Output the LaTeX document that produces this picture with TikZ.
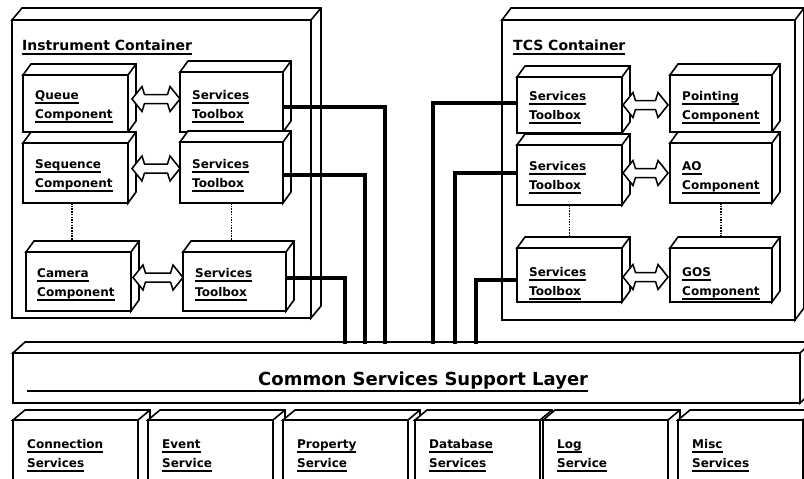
\documentclass[tikz,border=0pt]{standalone}
\usepackage{fontspec}
\setmainfont{DejaVu Sans}
\usetikzlibrary{calc}
\newcommand\ul[1]{\setbox0\hbox{#1}\rlap{\rule[-4.5pt]{\wd0}{1.3pt}}\box0}
\tikzset{
  frontbox/.style={draw, fill=white, line width=1.6pt, rectangle, inner sep=0pt, outer sep=0pt, line join=miter},
  faceline/.style={draw, fill=white, line width=1.6pt, line join=miter},
  lab/.style={anchor=base west, inner sep=0pt, font=\fontsize{12}{14}\selectfont\bfseries},
  titlelab/.style={anchor=base west, inner sep=0pt, font=\fontsize{14}{16}\selectfont\bfseries},
  biglab/.style={anchor=base west, inner sep=0pt, font=\fontsize{18}{20}\selectfont\bfseries},
  conn/.style={line width=4.5pt, line join=miter},
  hollowstyle/.style={draw, fill=white, line width=1.5pt, line join=miter},
  dotline/.style={line width=1.8pt, dash pattern=on 1.5pt off 1.2pt},
  ulrule/.style={line width=1.3pt}
}
\newcommand\cube[6]{%
  \node[frontbox, minimum width=#4pt, minimum height=#5pt] (#1) at (#2,#3) {};
  \path[faceline] (#1.north west) -- ++(#6) -- ($(#1.north east)+(#6)$) -- ($(#1.south east)+(#6)$) -- (#1.south east) -- (#1.north east) -- cycle;
  \draw[faceline] (#1.north east) -- ++(#6);}
\newcommand\hollow[2]{%
  \draw[hollowstyle] let \p1=#1, \p2=#2 in
   (\x1,\y1) -- (\x1+10pt,\y1+12.5pt) -- (\x1+12.5pt,\y1+4.5pt) -- (\x2-12.5pt,\y1+4.5pt) -- (\x2-10pt,\y1+12.5pt)
   -- (\x2,\y1) -- (\x2-10pt,\y1-12.5pt) -- (\x2-12.5pt,\y1-4.5pt) -- (\x1+12.5pt,\y1-4.5pt) -- (\x1+10pt,\y1-12.5pt) -- cycle;}
\newcommand\twolines[5]{%
  \node[lab] (#1a) at (#2,#3) {\ul{#4}};
  \node[lab] (#1b) at (#2,#3+19) {\ul{#5}};}
\begin{document}
\begin{tikzpicture}[x=1pt, y=-1pt]
\path[use as bounding box, fill=white] (0,0) rectangle (804,479);
% containers
\cube{IC}{161.5}{169}{299}{298}{10,-12}
\node[titlelab] (ICt) at (22,50) {\ul{Instrument Container}};
\cube{TC}{648.5}{170}{293}{300}{9,-12}
\node[titlelab] (TCt) at (513,50) {\ul{TCS Container}};
% instrument components
\cube{Q}{75.5}{103.5}{105}{57}{8,-11}
\cube{QT}{231.5}{102}{103}{60}{8,-11}
\cube{S}{75.5}{173}{105}{60}{8,-11}
\cube{ST}{231.5}{172.5}{103}{61}{8,-11}
\cube{C}{78.5}{281.5}{105}{59}{8,-11}
\cube{CT}{234.5}{281.5}{103}{59}{8,-11}
% TCS components
\cube{T1}{569.5}{105}{105}{56}{8,-11}
\cube{P}{721}{103.5}{102}{57}{8,-11}
\cube{T2}{569.5}{175}{105}{60}{8,-11}
\cube{AO}{721}{173}{102}{60}{8,-11}
\cube{T3}{569.5}{275}{105}{54}{8,-11}
\cube{G}{721}{275}{102}{54}{8,-11}
% dotted links
\draw[dotline] ($(S.south)+(-3.5,0)$) -- ($(S.south |- C.north)+(-3.5,-11)$);
\draw[dotline] (ST.south) -- ($(ST.south |- CT.north)+(0,-11)$);
\draw[dotline] (T2.south) -- ($(T2.south |- T3.north)+(0,-11)$);
\draw[dotline] (AO.south) -- ($(AO.south |- G.north)+(0,-11)$);
% labels
\twolines{Ql}{35}{99}{Queue}{Component}
\twolines{QTl}{192}{99}{Services}{Toolbox}
\twolines{Sl}{35}{168}{Sequence}{Component}
\twolines{STl}{192}{168}{Services}{Toolbox}
\twolines{Cl}{37}{277}{Camera}{Component}
\twolines{CTl}{195}{277}{Services}{Toolbox}
\twolines{T1l}{529}{100}{Services}{Toolbox}
\twolines{Pl}{682}{100}{Pointing}{Component}
\twolines{T2l}{529}{170}{Services}{Toolbox}
\twolines{AOl}{682}{170}{AO}{Component}
\twolines{T3l}{529}{276}{Services}{Toolbox}
\twolines{Gl}{682}{276}{GOS}{Component}
% hollow double arrows
\hollow{($(Q.east)+(4,-4.5)$)}{(QT.west)}
\hollow{($(S.east)+(4,-4.5)$)}{(ST.west)}
\hollow{($(C.east)+(2,-4)$)}{(CT.west)}
\hollow{($(T1.east)+(1,0)$)}{($(P.west)+(-2,0)$)}
\hollow{($(T2.east)+(1,-2)$)}{($(AO.west)+(-2,0)$)}
\hollow{($(T3.east)+(1,2)$)}{($(G.west)+(-2,0)$)}
% common layer
\cube{CL}{406.5}{378}{787}{50}{12,-11}
\node[biglab] (CLt) at (258,385) {Common Services Support Layer};
\draw[ulrule] ($(CLt.base west)+(-231,6)$) -- ($(CLt.base east)+(0,6)$);
% services
\cube{svA}{75.5}{457.5}{125}{75}{12,-10}
\cube{svB}{210.5}{457.5}{125}{75}{12,-10}
\cube{svC}{345.5}{457.5}{125}{75}{12,-10}
\cube{svD}{477.5}{457.5}{125}{75}{12,-10}
\cube{svE}{605.5}{457.5}{125}{75}{12,-10}
\cube{svF}{740.5}{457.5}{125}{75}{12,-10}
\twolines{svAl}{27}{448}{Connection}{Services}
\twolines{svBl}{162}{448}{Event}{Service}
\twolines{svCl}{297}{448}{Property}{Service}
\twolines{svDl}{429}{448}{Database}{Services}
\twolines{svEl}{557}{448}{Log}{Service}
\twolines{svFl}{692}{448}{Misc}{Services}
% connectors
\coordinate (jA) at (385,344);
\coordinate (jB) at (365,344);
\coordinate (jC) at (345,344);
\coordinate (jD) at (433,344);
\coordinate (jE) at (455,344);
\coordinate (jF) at (476,344);
\draw[conn] ($(QT.east)+(0,5)$) -| (jA);
\draw[conn] ($(ST.east)+(0,2.5)$) -| (jB);
\draw[conn] ($(CT.east)+(0,-3.5)$) -| (jC);
\draw[conn] ($(T1.west)+(0,-2)$) -| (jD);
\draw[conn] ($(T2.west)+(0,-2)$) -| (jE);
\draw[conn] ($(T3.west)+(0,5)$) -| (jF);
\end{tikzpicture}
\end{document}
